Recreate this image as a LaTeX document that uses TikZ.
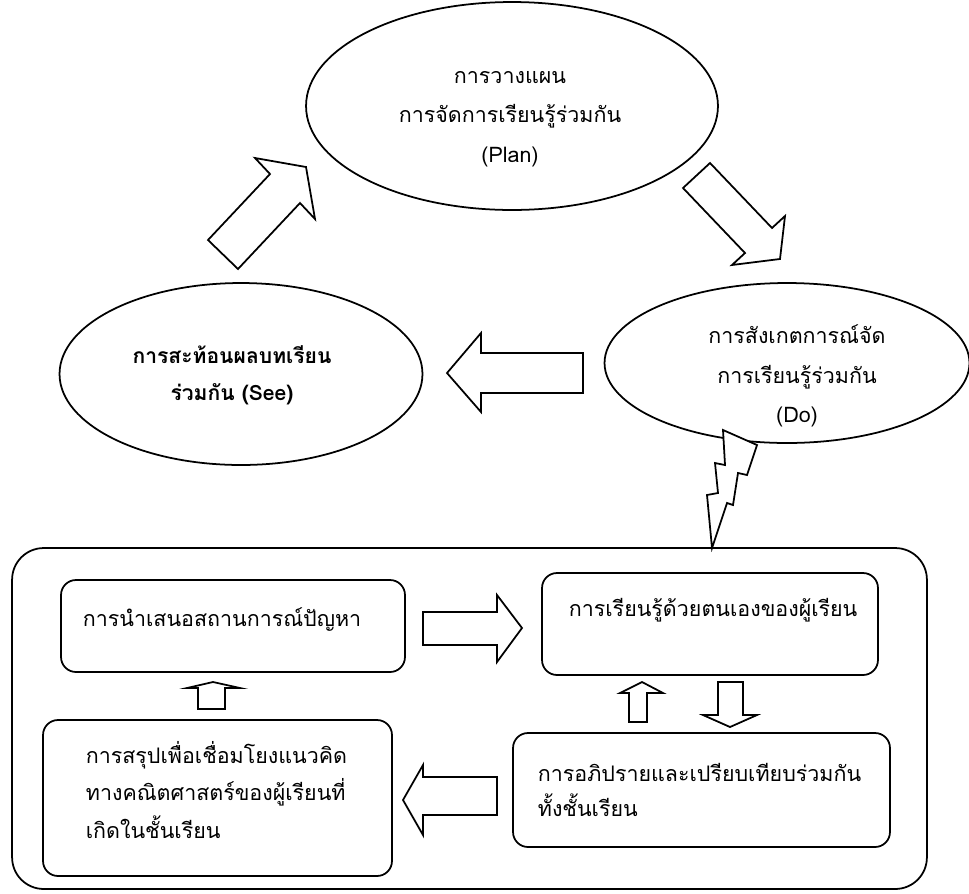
\documentclass[tikz,border=0pt]{standalone}
\usepackage{fontspec}
\newfontfamily\thaifont[Script=Thai]{Loma}
\usetikzlibrary{shapes.geometric}
\begin{document}
\begin{tikzpicture}[x=0.02cm,y=-0.02cm, line width=1pt, line join=miter,
  ell/.style={draw, ellipse, inner sep=0pt},
  txt/.style={font=\thaifont\fontsize{12.2}{22.5}\selectfont, align=center, inner sep=0pt},
  ltxt/.style={font=\thaifont\fontsize{12.2}{21.5}\selectfont, align=left, inner sep=0pt, anchor=west},
  sbox/.style={draw, rectangle, rounded corners=8.5pt, inner sep=0pt},
  blockarrow/.style={draw, fill=white, line width=1pt}]
\useasboundingbox (0,0) rectangle (969,893);

% ellipses
\node[ell, minimum width=8.24cm, minimum height=4.16cm] (plan) at (512,106) {};
\node[ell, minimum width=7.26cm, minimum height=3.64cm] (see) at (241,374) {};
\node[ell, minimum width=7.30cm, minimum height=3.20cm] (do) at (787,363) {};

\node[txt] (plantxt) at (510,119) {การวางแผน\\การจัดการเรียนรู้ร่วมกัน\\(Plan)};
\node[txt, font=\thaifont\bfseries\fontsize{12}{21}\selectfont] (seetxt) at (232,375) {การสะท้อนผลบทเรียน\\ร่วมกัน (See)};
\node[txt] (dotxt) at (797,376) {การสังเกตการณ์จัด\\การเรียนรู้ร่วมกัน\\(Do)};

% big block arrows
\draw[blockarrow] (208,240) -- (270,174) -- (255,158) -- (306,167) -- (315,219) -- (300,203) -- (238,269) -- cycle;
\draw[blockarrow] (710,163) -- (772,228) -- (785,216) -- (780,259) -- (732,265) -- (745,253) -- (683,188) -- cycle;
\draw[blockarrow] (583,353) -- (481,353) -- (481,333) -- (447,373) -- (481,412) -- (481,393) -- (583,393) -- cycle;

% outer box
\node[draw, rectangle, rounded corners=18pt, minimum width=18.3cm, minimum height=6.82cm, inner sep=0pt] (outer) at (469.5,718.5) {};

% lightning bolt
\draw[blockarrow] (723,430) -- (757,445) -- (747,475) -- (738,473) -- (733,505) -- (727,503) -- (712,548) -- (707,495) -- (718,493) -- (715,463) -- (725,465) -- cycle;

% inner boxes
\node[sbox, minimum width=6.88cm, minimum height=1.84cm] (A) at (233,626) {};
\node[sbox, minimum width=6.72cm, minimum height=2.04cm] (C) at (710,624) {};
\node[sbox, minimum width=6.98cm, minimum height=3.12cm] (B) at (217.5,798) {};
\node[sbox, minimum width=7.54cm, minimum height=2.28cm] (D) at (701.5,790) {};

\node[ltxt] (Atxt) at (82,620) {การนำเสนอสถานการณ์ปัญหา};
\node[ltxt] (Ctxt) at (568,610) {การเรียนรู้ด้วยตนเองของผู้เรียน};
\node[ltxt] (Btxt) at (85,790) {การสรุปเพื่อเชื่อมโยงแนวคิด\\ทางคณิตศาสตร์ของผู้เรียนที่\\เกิดในชั้นเรียน};
\node[ltxt, font=\thaifont\fontsize{12.2}{20}\selectfont] (Dtxt) at (537,790) {การอภิปรายและเปรียบเทียบร่วมกัน\\ทั้งชั้นเรียน};

% small block arrows
\draw[blockarrow] (423,612) -- (497,612) -- (497,595) -- (522,628) -- (497,662) -- (497,645) -- (423,645) -- cycle;
\draw[blockarrow] (497,777) -- (423,777) -- (423,765) -- (403,800) -- (423,835) -- (423,815) -- (497,815) -- cycle;
\draw[blockarrow] (198,709) -- (198,688) -- (187,688) -- (213,682) -- (240,688) -- (225,688) -- (225,709) -- cycle;
\draw[blockarrow] (629,722) -- (629,693) -- (620,693) -- (642,682) -- (663,693) -- (647,693) -- (647,722) -- cycle;
\draw[blockarrow] (718,682) -- (718,715) -- (703,715) -- (730,727) -- (757,715) -- (743,715) -- (743,682) -- cycle;
\end{tikzpicture}
\end{document}
